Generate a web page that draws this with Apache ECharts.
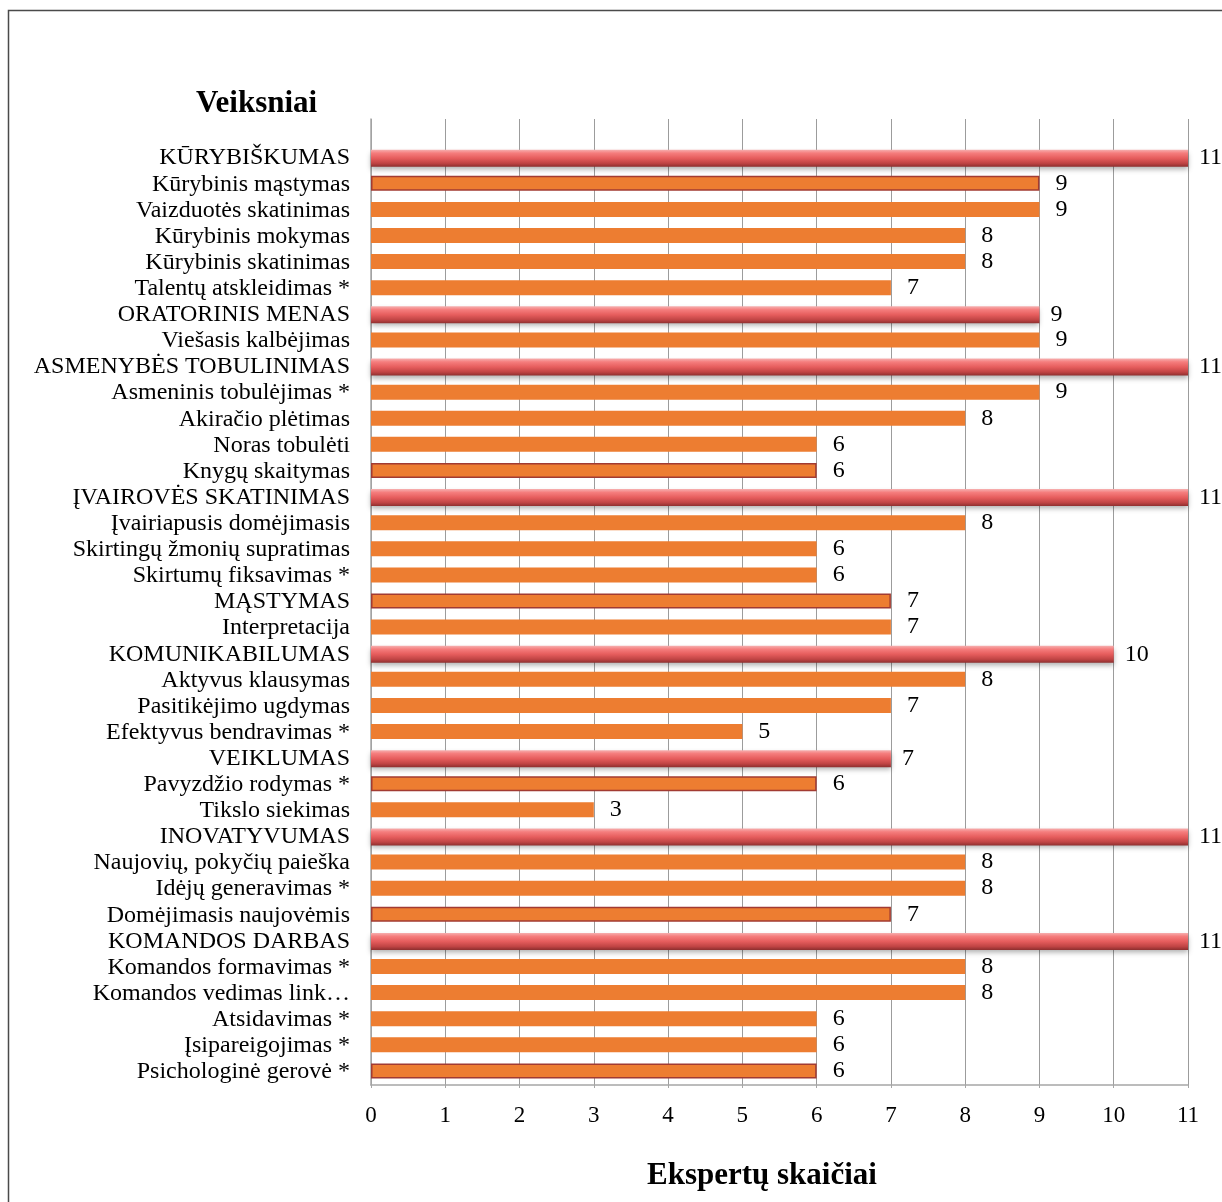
<!DOCTYPE html>
<html>
<head>
<meta charset="utf-8">
<script src="https://cdn.jsdelivr.net/npm/echarts@6/dist/echarts.min.js"></script>
<style>
  html, body { margin: 0; padding: 0; background: #fff; }
  #chart { width: 1222px; height: 1202px; }
</style>
</head>
<body>
<div id="chart"></div>
<script>
// Factors and the number of experts that named each one (top to bottom)
const factors = [
  'KŪRYBIŠKUMAS', 'Kūrybinis mąstymas', 'Vaizduotės skatinimas', 'Kūrybinis mokymas',
  'Kūrybinis skatinimas', 'Talentų atskleidimas *', 'ORATORINIS MENAS', 'Viešasis kalbėjimas',
  'ASMENYBĖS TOBULINIMAS', 'Asmeninis tobulėjimas *', 'Akiračio plėtimas', 'Noras tobulėti',
  'Knygų skaitymas', 'ĮVAIROVĖS SKATINIMAS', 'Įvairiapusis domėjimasis', 'Skirtingų žmonių supratimas',
  'Skirtumų fiksavimas *', 'MĄSTYMAS', 'Interpretacija', 'KOMUNIKABILUMAS',
  'Aktyvus klausymas', 'Pasitikėjimo ugdymas', 'Efektyvus bendravimas *', 'VEIKLUMAS',
  'Pavyzdžio rodymas *', 'Tikslo siekimas', 'INOVATYVUMAS', 'Naujovių, pokyčių paieška',
  'Idėjų generavimas *', 'Domėjimasis naujovėmis', 'KOMANDOS DARBAS', 'Komandos formavimas *',
  'Komandos vedimas link…', 'Atsidavimas *', 'Įsipareigojimas *', 'Psichologinė gerovė *'
];
const experts = [
  11, 9, 9, 8,
  8, 7, 9, 9,
  11, 9, 8, 6,
  6, 11, 8, 6,
  6, 7, 7, 10,
  8, 7, 5, 7,
  6, 3, 11, 8,
  8, 7, 11, 8,
  8, 6, 6, 6
];
// Group headings drawn as highlighted (red) bars
const headings = [
  'KŪRYBIŠKUMAS', 'ORATORINIS MENAS', 'ASMENYBĖS TOBULINIMAS', 'ĮVAIROVĖS SKATINIMAS',
  'KOMUNIKABILUMAS', 'VEIKLUMAS', 'INOVATYVUMAS', 'KOMANDOS DARBAS'
];
const xTicks = [0, 1, 2, 3, 4, 5, 6, 7, 8, 9, 10, 11];

// Items drawn with a dark outline
const outlined = new Set([
  'Kūrybinis mąstymas', 'Knygų skaitymas', 'MĄSTYMAS',
  'Pavyzdžio rodymas *', 'Domėjimasis naujovėmis', 'Psichologinė gerovė *'
]);

const FONT = '"Liberation Serif", "Times New Roman", serif';
const headingSet = new Set(headings);

// an empty slot above the first row leaves the gap under the top of the grid
const yCats = [''].concat(factors);

const redData = [null];
const orangeData = [null];
factors.forEach((name, i) => {
  const v = experts[i];
  if (headingSet.has(name)) {
    redData.push(v);
    orangeData.push(null);
  } else {
    redData.push(null);
    orangeData.push(outlined.has(name)
      ? { value: v, itemStyle: { borderColor: '#A23B32', borderWidth: 1.5 } }
      : v);
  }
});

const chart = echarts.init(document.getElementById('chart'), null, { renderer: 'canvas' });

chart.setOption({
  backgroundColor: '#ffffff',
  animation: false,
  graphic: [
    {
      type: 'rect',
      shape: { x: 8.5, y: 10.5, width: 1400, height: 1400 },
      style: { fill: 'none', stroke: '#4a4a4a', lineWidth: 1.5 },
      silent: true
    },
    {
      type: 'text',
      left: 196, top: 88,
      style: { text: 'Veiksniai', font: 'bold 31px ' + FONT, fill: '#000' }
    },
    {
      type: 'text',
      left: 647, top: 1160,
      style: { text: 'Ekspertų skaičiai', font: 'bold 31px ' + FONT, fill: '#000' }
    }
  ],
  grid: { left: 371, right: 34, top: 119, bottom: 117, containLabel: false },
  xAxis: {
    type: 'value',
    min: xTicks[0],
    max: xTicks[xTicks.length - 1],
    interval: 1,
    axisLine: { show: true, lineStyle: { color: '#a6a6a6', width: 1.5 } },
    axisTick: { show: true, length: 3, lineStyle: { color: '#a6a6a6' } },
    splitLine: { show: true, lineStyle: { color: '#9c9c9c', width: 1 } },
    axisLabel: { color: '#000', fontFamily: FONT, fontSize: 23, margin: 19 }
  },
  yAxis: {
    type: 'category',
    inverse: true,
    data: yCats,
    axisLine: { show: true, lineStyle: { color: '#a6a6a6', width: 1.5 } },
    axisTick: { show: false },
    splitLine: { show: false },
    axisLabel: { color: '#000', fontFamily: FONT, fontSize: 24, margin: 21, interval: 0, padding: [3, 0, 0, 0] }
  },
  series: [
    {
      name: 'items',
      type: 'bar',
      data: orangeData,
      barWidth: 15,
      barGap: '-100%',
      itemStyle: { color: '#ED7D31' },
      label: {
        show: true, position: 'right', distance: 16,
        color: '#000', fontFamily: FONT, fontSize: 24, padding: [4, 0, 0, 0]
      },
      z: 2
    },
    {
      name: 'headings',
      type: 'bar',
      data: redData,
      barWidth: 17,
      barGap: '-100%',
      itemStyle: {
        color: new echarts.graphic.LinearGradient(0, 0, 0, 1, [
          { offset: 0, color: '#f6b0b0' },
          { offset: 0.2, color: '#f57d7d' },
          { offset: 0.5, color: '#e65d5d' },
          { offset: 0.8, color: '#c04444' },
          { offset: 1, color: '#8e2f2f' }
        ]),
        shadowColor: 'rgba(0,0,0,0.3)',
        shadowBlur: 5,
        shadowOffsetY: 3
      },
      label: {
        show: true, position: 'right', distance: 11,
        color: '#000', fontFamily: FONT, fontSize: 24, padding: [3, 0, 0, 0]
      },
      z: 3
    }
  ]
});
</script>
</body>
</html>
